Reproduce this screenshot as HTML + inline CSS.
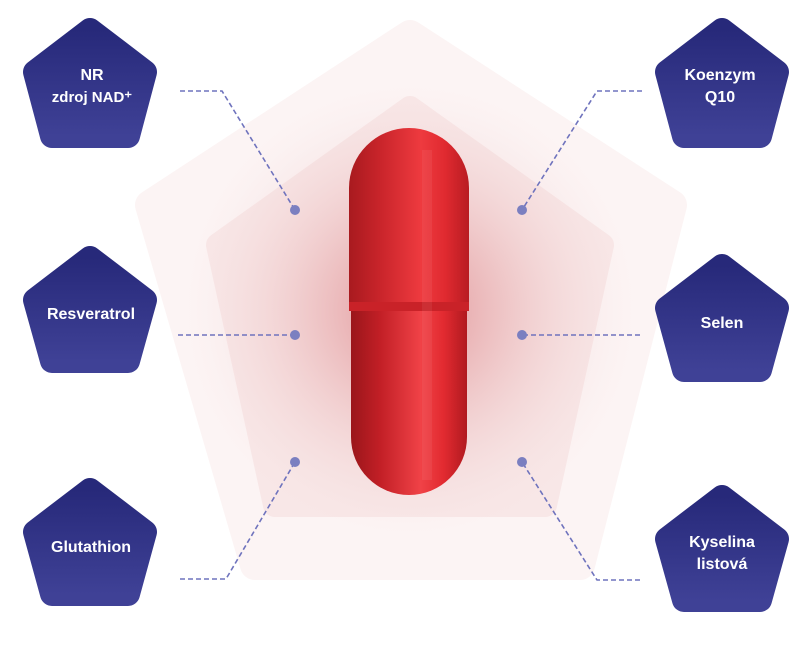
<!DOCTYPE html>
<html><head><meta charset="utf-8"><style>
html,body{margin:0;padding:0;background:#fff;}
svg{display:block;}
text{font-family:"Liberation Sans",sans-serif;font-weight:bold;fill:#fff;text-anchor:middle;}
</style></head><body>
<svg width="800" height="651" viewBox="0 0 800 651">
<defs>
<linearGradient id="pg" x1="0" y1="0" x2="0" y2="1">
<stop offset="0" stop-color="#27297a"/><stop offset="1" stop-color="#3f4196"/></linearGradient>
<radialGradient id="glow" cx="410" cy="310" r="230" gradientUnits="userSpaceOnUse">
<stop offset="0" stop-color="#c9353d" stop-opacity="0.5"/>
<stop offset="0.4" stop-color="#d87478" stop-opacity="0.3"/>
<stop offset="1" stop-color="#f3dcdc" stop-opacity="0"/></radialGradient>
<linearGradient id="cap" x1="0" y1="0" x2="1" y2="0">
<stop offset="0" stop-color="#a81a1f"/><stop offset="0.25" stop-color="#c8242a"/>
<stop offset="0.6" stop-color="#ee3a3f"/><stop offset="0.8" stop-color="#e02a30"/>
<stop offset="1" stop-color="#b81c22"/></linearGradient>
<linearGradient id="cap2" x1="0" y1="0" x2="1" y2="0">
<stop offset="0" stop-color="#9a161b"/><stop offset="0.25" stop-color="#c21f26"/>
<stop offset="0.6" stop-color="#f04247"/><stop offset="0.8" stop-color="#e22a30"/>
<stop offset="1" stop-color="#b01a20"/></linearGradient>
</defs>
<polygon points="410,35 672,205 580,565 255,565 150,205" fill="#fcf4f4" stroke="#fcf4f4" stroke-width="30" stroke-linejoin="round"/>
<polygon points="410,108 602,245 545,505 275,505 218,245" fill="#f8e7e7" stroke="#f8e7e7" stroke-width="24" stroke-linejoin="round"/>
<rect x="150" y="60" width="520" height="500" fill="url(#glow)"/>
<path d="M349,188 a60,60 0 0 1 120,0 V311 H349 Z" fill="url(#cap)"/>
<path d="M351,311 H467 V437 a58,58 0 0 1 -116,0 Z" fill="url(#cap2)"/>
<rect x="349" y="302" width="120" height="9" fill="#c92228"/>
<rect x="422" y="150" width="10" height="330" fill="#fff" opacity="0.06"/>
<g fill="none" stroke="#6f73bd" stroke-width="1.6" stroke-dasharray="5,3">
<polyline points="180,91 222,91 295,210"/>
<polyline points="178,335 295,335"/>
<polyline points="180,579 226,579 295,462"/>
<polyline points="642,91 597,91 522,210"/>
<polyline points="640,335 522,335"/>
<polyline points="640,580 597,580 522,462"/>
</g>
<g fill="#7b7fc0">
<circle cx="295" cy="210" r="5"/><circle cx="295" cy="335" r="5"/><circle cx="295" cy="462" r="5"/>
<circle cx="522" cy="210" r="5"/><circle cx="522" cy="335" r="5"/><circle cx="522" cy="462" r="5"/>
</g>
<g fill="url(#pg)" stroke="url(#pg)" stroke-width="24" stroke-linejoin="round">
<polygon points="90,30 145,72 128,136 52,136 35,72"/>
<polygon points="90,258 145,300 128,361 52,361 35,300"/>
<polygon points="90,490 145,532 128,594 52,594 35,532"/>
<polygon points="722,30 777,72 760,136 684,136 667,72"/>
<polygon points="722,266 777,308 760,370 684,370 667,308"/>
<polygon points="722,497 777,539 760,600 684,600 667,539"/>
</g>
<g font-size="16">
<text x="92" y="80">NR</text>
<text x="92" y="102" font-size="15">zdroj NAD⁺</text>
<text x="91" y="319">Resveratrol</text>
<text x="91" y="552">Glutathion</text>
<text x="720" y="80">Koenzym</text>
<text x="720" y="102">Q10</text>
<text x="722" y="328">Selen</text>
<text x="722" y="547">Kyselina</text>
<text x="722" y="569">listová</text>
</g>
</svg>
</body></html>
